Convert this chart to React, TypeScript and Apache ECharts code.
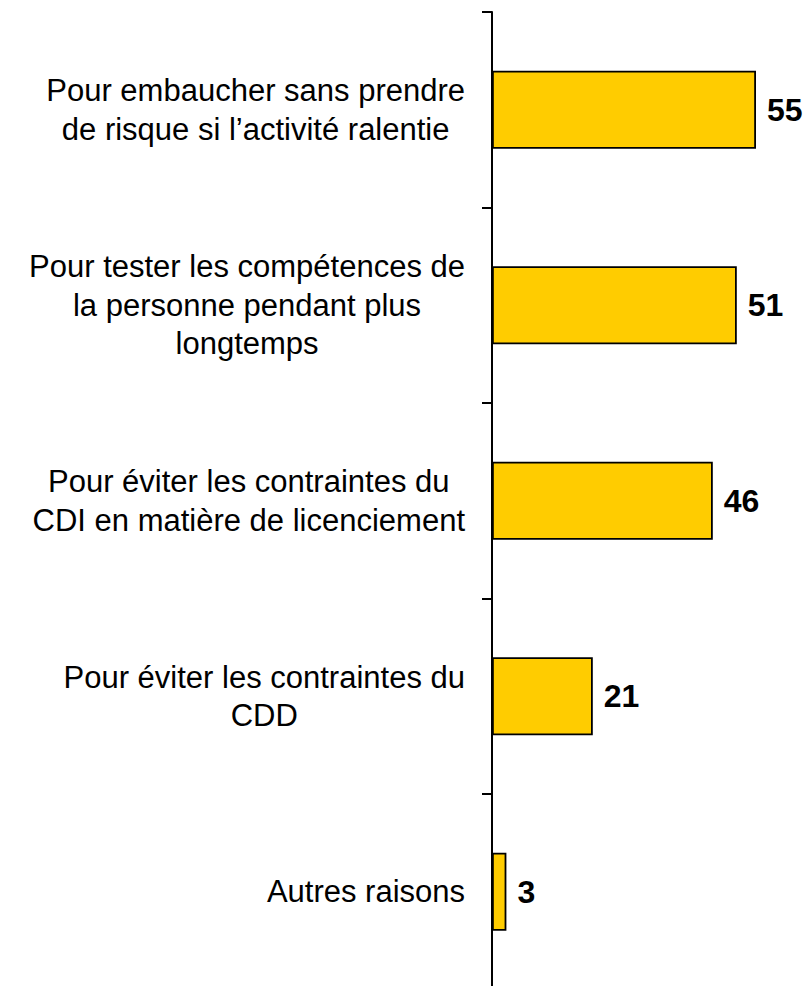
import React, { useEffect, useRef } from "react";
import * as echarts from "echarts";

const categories: string[] = [
  "Pour embaucher sans prendre\nde risque si l’activité ralentie",
  "Pour tester les compétences de\nla personne pendant plus\nlongtemps",
  "Pour éviter les contraintes du\nCDI en matière de licenciement",
  "Pour éviter les contraintes du\nCDD",
  "Autres raisons",
];

const values: number[] = [55, 51, 46, 21, 3];

const FONT = "'Liberation Sans', Arial, sans-serif";

export default function App() {
  const ref = useRef<HTMLDivElement>(null);

  useEffect(() => {
    if (!ref.current) return;
    const chart = echarts.init(ref.current, undefined, { renderer: "svg" });
    chart.setOption({
      animation: false,
      backgroundColor: "#ffffff",
      grid: { left: 492, top: 12, width: 288, height: 977.5 },
      xAxis: {
        type: "value",
        min: 0,
        max: 60,
        show: false,
      },
      yAxis: {
        type: "category",
        inverse: true,
        data: categories,
        axisLine: { show: true, lineStyle: { color: "#000", width: 2 } },
        axisTick: { show: true, length: 10, lineStyle: { color: "#000", width: 2 } },
        axisLabel: {
          margin: 27,
          formatter: (v: string) =>
            v
              .split("\n")
              .map((l) => `{c|${l}}`)
              .join("\n"),
          rich: {
            c: {
              fontSize: 31,
              fontFamily: FONT,
              color: "#000",
              align: "center",
              lineHeight: 38.5,
            },
          },
        },
        splitLine: { show: false },
      },
      series: [
        {
          type: "bar",
          data: values,
          barCategoryGap: "60%",
          itemStyle: { color: "#FFCC00", borderColor: "#000", borderWidth: 1.8 },
          label: {
            show: true,
            position: "right",
            distance: 11,
            fontSize: 32,
            fontWeight: "bold",
            fontFamily: FONT,
            color: "#000",
          },
        },
      ],
    });
    return () => chart.dispose();
  }, []);

  return (
    <div style={{ position: "fixed", left: 0, top: 0, width: 807, height: 986, overflow: "hidden", background: "#fff" }}>
      <div ref={ref} style={{ position: "absolute", left: 0, top: 0, width: 807, height: 1000 }} />
    </div>
  );
}
